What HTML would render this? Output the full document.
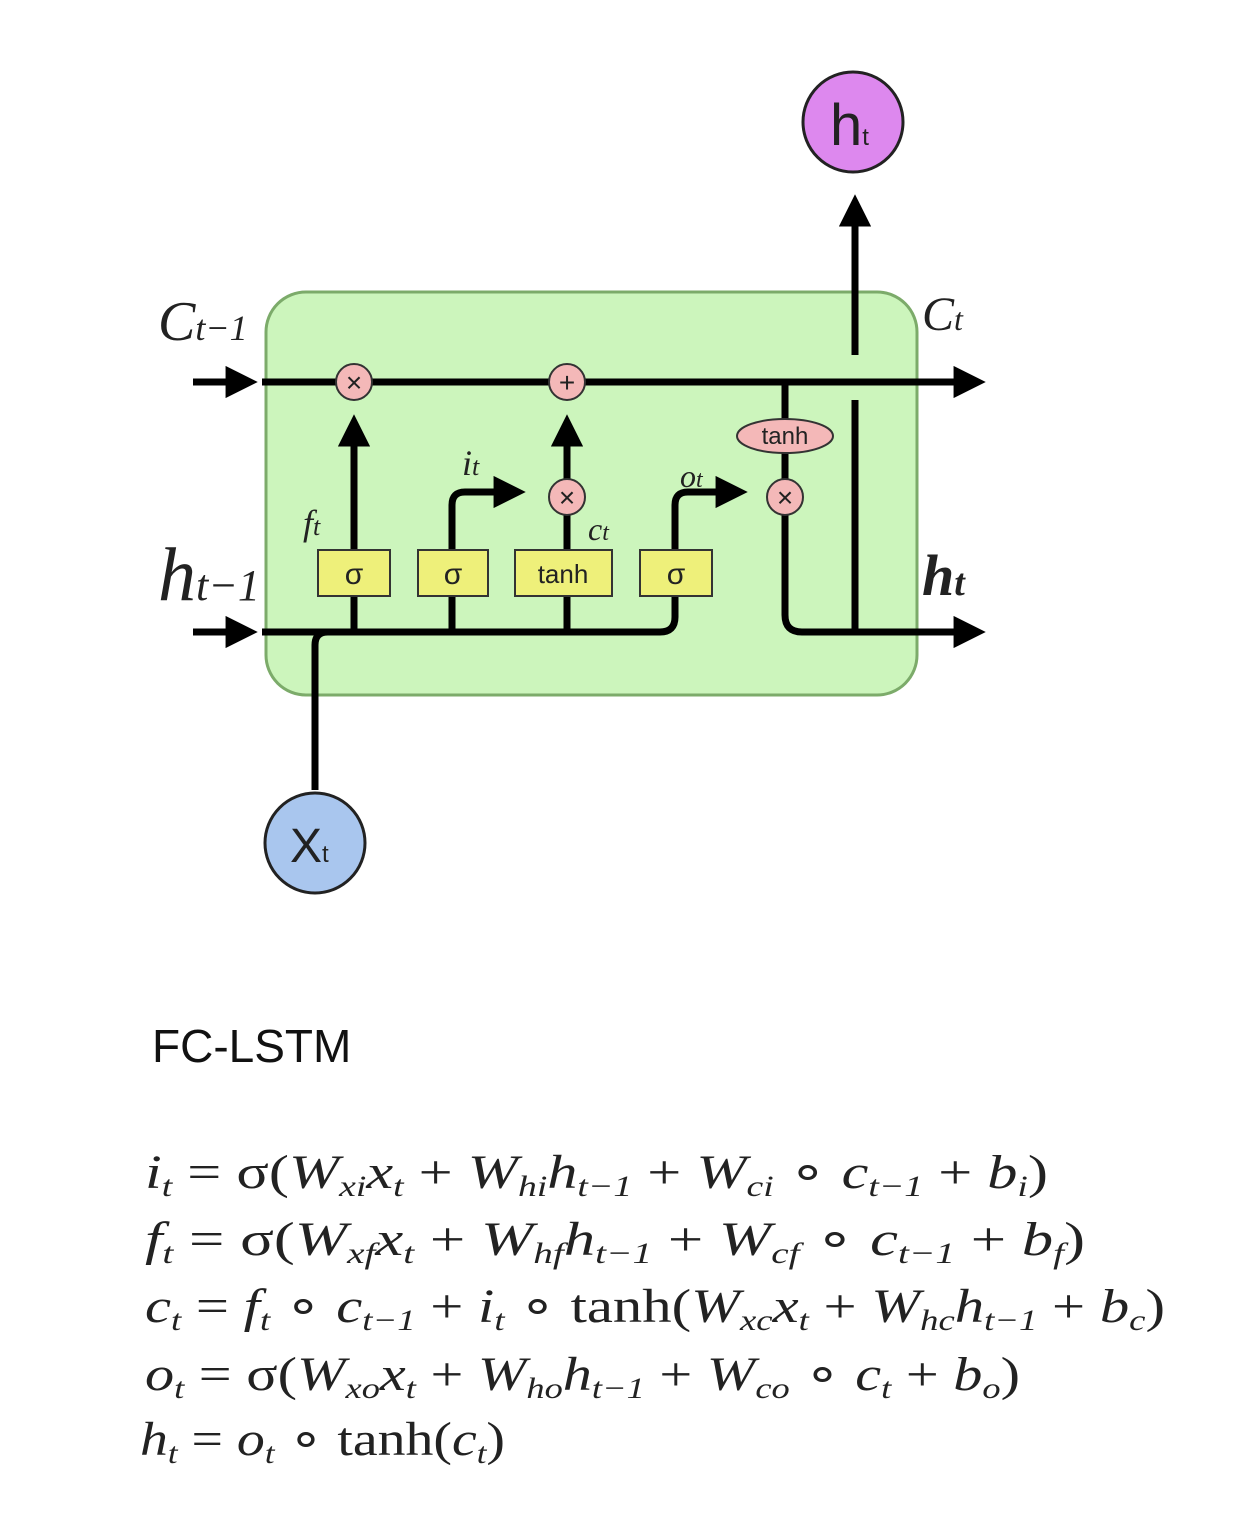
<!DOCTYPE html>
<html><head><meta charset="utf-8"><style>
html,body{margin:0;padding:0;background:#fff;}
svg{display:block;}
.m{font-family:"Liberation Serif",serif;font-size:48px;font-style:italic;fill:#222;}
.s{font-size:30px;}
.r{font-style:normal;}
</style></head><body>
<svg width="1235" height="1527" viewBox="0 0 1235 1527">
<defs>
<marker id="ah" viewBox="0 0 10 10" refX="2" refY="5" markerWidth="4.6" markerHeight="4.6" orient="auto"><path d="M0,0 L10,5 L0,10 z" fill="#000"/></marker>
</defs>
<rect x="266" y="292" width="651" height="403" rx="40" fill="#ccf5bc" stroke="#7cab6a" stroke-width="3"/>
<g stroke="#000" stroke-width="7" fill="none">
<line x1="193" y1="382" x2="232" y2="382" marker-end="url(#ah)"/>
<line x1="193" y1="632" x2="232" y2="632" marker-end="url(#ah)"/>
<line x1="262" y1="382" x2="960" y2="382" marker-end="url(#ah)"/>
<path d="M262,632 H660 Q675,632 675,617 V575"/>
<path d="M315,790 V645 Q315,632 328,632"/>
<line x1="354" y1="632" x2="354" y2="440" marker-end="url(#ah)"/>
<path d="M452,632 V505 Q452,492 465,492 H500" marker-end="url(#ah)"/>
<line x1="567" y1="632" x2="567" y2="440" marker-end="url(#ah)"/>
<path d="M675,575 V505 Q675,492 688,492 H722" marker-end="url(#ah)"/>
<line x1="785" y1="382" x2="785" y2="497"/>
<path d="M785,497 V615 Q785,632 802,632 H960" marker-end="url(#ah)"/>
<line x1="855" y1="632" x2="855" y2="400"/>
<line x1="855" y1="355" x2="855" y2="220" marker-end="url(#ah)"/>
</g>
<g fill="#eef07a" stroke="#333" stroke-width="2">
<rect x="318" y="550" width="72" height="46"/>
<rect x="418" y="550" width="70" height="46"/>
<rect x="515" y="550" width="97" height="46"/>
<rect x="640" y="550" width="72" height="46"/>
</g>
<g font-family="Liberation Sans,sans-serif" font-size="30" text-anchor="middle" fill="#222">
<text x="354" y="584">σ</text>
<text x="453" y="584">σ</text>
<text x="563" y="583" font-size="26">tanh</text>
<text x="676" y="584">σ</text>
</g>
<g fill="#f4b8b8" stroke="#333" stroke-width="2">
<circle cx="354" cy="382" r="18"/>
<circle cx="567" cy="382" r="18"/>
<circle cx="567" cy="497" r="18"/>
<circle cx="785" cy="497" r="18"/>
<ellipse cx="785" cy="436" rx="48" ry="17"/>
</g>
<g font-family="Liberation Sans,sans-serif" font-size="28" text-anchor="middle" fill="#222">
<text x="354" y="392">×</text><text x="567" y="392">+</text><text x="567" y="507">×</text><text x="785" y="507">×</text>
<text x="785" y="444" font-size="24">tanh</text>
</g>
<circle cx="853" cy="122" r="50" fill="#dd88ee" stroke="#222" stroke-width="3"/>
<text x="830" y="145" font-family="Liberation Sans,sans-serif" font-size="58" fill="#222">h<tspan font-size="24">t</tspan></text>
<circle cx="315" cy="843" r="50" fill="#a9c6ee" stroke="#222" stroke-width="3"/>
<text x="290" y="862" font-family="Liberation Sans,sans-serif" font-size="48" fill="#222">X<tspan font-size="24">t</tspan></text>
<g class="m">
<text x="158" y="340" font-size="56">C<tspan font-size="36">t−1</tspan></text>
<text x="922" y="330" font-size="48">C<tspan font-size="32">t</tspan></text>
<text x="158" y="600" font-size="76">h<tspan font-size="44">t−1</tspan></text>
<text x="922" y="595" font-size="58" font-weight="bold">h<tspan font-size="38">t</tspan></text>
<text x="303" y="535" font-size="36">f<tspan font-size="26">t</tspan></text>
<text x="462" y="475" font-size="36">i<tspan font-size="26">t</tspan></text>
<text x="588" y="540" font-size="32">c<tspan font-size="24">t</tspan></text>
<text x="680" y="487" font-size="32">o<tspan font-size="24">t</tspan></text>
</g>
<text x="152" y="1062" font-family="Liberation Sans,sans-serif" font-size="46" fill="#111">FC-LSTM</text>
<g class="m">
<text x="145" y="1188" textLength="903" lengthAdjust="spacingAndGlyphs">i<tspan class="s" dy="8">t</tspan><tspan dy="-8" class="r"> = σ(</tspan>W<tspan class="s" dy="8">xi</tspan><tspan dy="-8">x</tspan><tspan class="s" dy="8">t</tspan><tspan dy="-8" class="r"> + </tspan>W<tspan class="s" dy="8">hi</tspan><tspan dy="-8">h</tspan><tspan class="s" dy="8">t−1</tspan><tspan dy="-8" class="r"> + </tspan>W<tspan class="s" dy="8">ci</tspan><tspan dy="-8" class="r"> ∘ </tspan>c<tspan class="s" dy="8">t−1</tspan><tspan dy="-8" class="r"> + </tspan>b<tspan class="s" dy="8">i</tspan><tspan dy="-8" class="r">)</tspan></text>
<text x="145" y="1255" textLength="940" lengthAdjust="spacingAndGlyphs">f<tspan class="s" dy="8">t</tspan><tspan dy="-8" class="r"> = σ(</tspan>W<tspan class="s" dy="8">xf</tspan><tspan dy="-8">x</tspan><tspan class="s" dy="8">t</tspan><tspan dy="-8" class="r"> + </tspan>W<tspan class="s" dy="8">hf</tspan><tspan dy="-8">h</tspan><tspan class="s" dy="8">t−1</tspan><tspan dy="-8" class="r"> + </tspan>W<tspan class="s" dy="8">cf</tspan><tspan dy="-8" class="r"> ∘ </tspan>c<tspan class="s" dy="8">t−1</tspan><tspan dy="-8" class="r"> + </tspan>b<tspan class="s" dy="8">f</tspan><tspan dy="-8" class="r">)</tspan></text>
<text x="145" y="1322" textLength="1020" lengthAdjust="spacingAndGlyphs">c<tspan class="s" dy="8">t</tspan><tspan dy="-8" class="r"> = </tspan>f<tspan class="s" dy="8">t</tspan><tspan dy="-8" class="r"> ∘ </tspan>c<tspan class="s" dy="8">t−1</tspan><tspan dy="-8" class="r"> + </tspan>i<tspan class="s" dy="8">t</tspan><tspan dy="-8" class="r"> ∘ tanh(</tspan>W<tspan class="s" dy="8">xc</tspan><tspan dy="-8">x</tspan><tspan class="s" dy="8">t</tspan><tspan dy="-8" class="r"> + </tspan>W<tspan class="s" dy="8">hc</tspan><tspan dy="-8">h</tspan><tspan class="s" dy="8">t−1</tspan><tspan dy="-8" class="r"> + </tspan>b<tspan class="s" dy="8">c</tspan><tspan dy="-8" class="r">)</tspan></text>
<text x="145" y="1390" textLength="875" lengthAdjust="spacingAndGlyphs">o<tspan class="s" dy="8">t</tspan><tspan dy="-8" class="r"> = σ(</tspan>W<tspan class="s" dy="8">xo</tspan><tspan dy="-8">x</tspan><tspan class="s" dy="8">t</tspan><tspan dy="-8" class="r"> + </tspan>W<tspan class="s" dy="8">ho</tspan><tspan dy="-8">h</tspan><tspan class="s" dy="8">t−1</tspan><tspan dy="-8" class="r"> + </tspan>W<tspan class="s" dy="8">co</tspan><tspan dy="-8" class="r"> ∘ </tspan>c<tspan class="s" dy="8">t</tspan><tspan dy="-8" class="r"> + </tspan>b<tspan class="s" dy="8">o</tspan><tspan dy="-8" class="r">)</tspan></text>
<text x="140" y="1455" textLength="365" lengthAdjust="spacingAndGlyphs">h<tspan class="s" dy="8">t</tspan><tspan dy="-8" class="r"> = </tspan>o<tspan class="s" dy="8">t</tspan><tspan dy="-8" class="r"> ∘ tanh(</tspan>c<tspan class="s" dy="8">t</tspan><tspan dy="-8" class="r">)</tspan></text>
</g>
</svg>
</body></html>
